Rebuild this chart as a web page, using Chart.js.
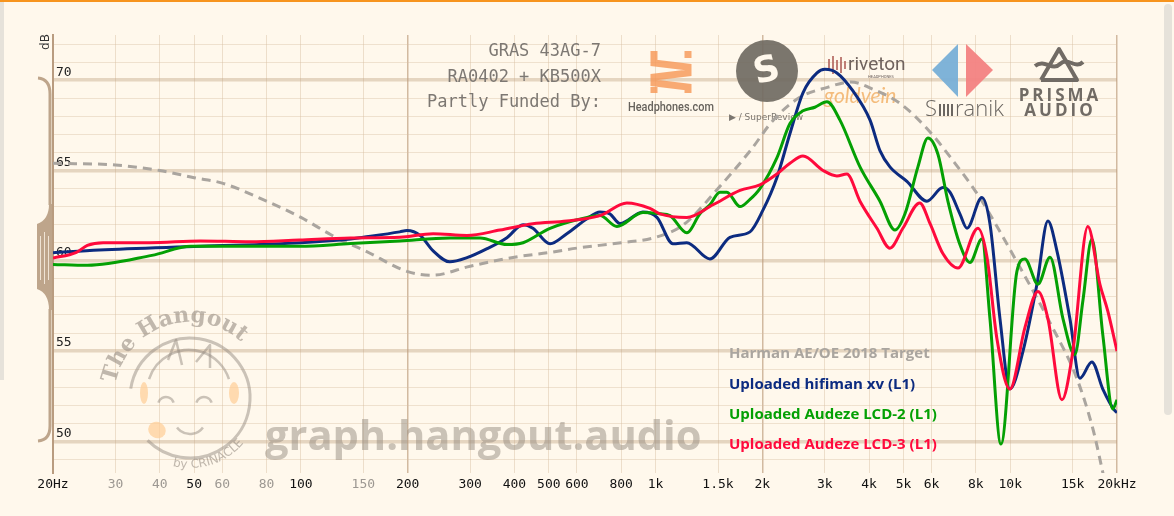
<!DOCTYPE html>
<html>
<head>
<meta charset="utf-8">
<script src="https://cdn.jsdelivr.net/npm/chart.js@4.4.1/dist/chart.umd.min.js"></script>
<style>
  html, body { margin: 0; padding: 0; background: #fff8ec; overflow: hidden; }
  canvas { display: block; }
</style>
</head>
<body>
<canvas id="fr" width="1174" height="516"></canvas>
<script>
'use strict';

// x axis ticks (Hz) and their labels
const xTicks = [20, 30, 40, 50, 60, 80, 100, 150, 200, 300, 400, 500, 600, 800, 1000, 1500, 2000, 3000, 4000, 5000, 6000, 8000, 10000, 15000, 20000];
const xTickLabels = ['20Hz', '30', '40', '50', '60', '80', '100', '150', '200', '300', '400', '500', '600', '800', '1k', '1.5k', '2k', '3k', '4k', '5k', '6k', '8k', '10k', '15k', '20kHz'];
const xGrayTicks = [30, 40, 60, 80, 150];
const xDarkGrid = [20, 200, 2000, 20000];

// y axis: one line per dB, label every 5
const yTicks = [49, 50, 51, 52, 53, 54, 55, 56, 57, 58, 59, 60, 61, 62, 63, 64, 65, 66, 67, 68, 69, 70, 71, 72];

// Harman AE/OE 2018 target
const targetFreq = [20, 30, 40, 50, 60, 80, 100, 120, 131, 150, 200, 235, 300, 400, 500, 600, 800, 1000, 1200, 1500, 1850, 2150, 2550, 3050, 3550, 4100, 4900, 5900, 6800, 8200, 10400, 13000, 15400, 17100, 18000, 20000];
const targetDb = [65.4, 65.3, 65.0, 64.6, 64.3, 63.3, 62.4, 61.5, 61.1, 60.6, 59.4, 59.2, 59.7, 60.2, 60.45, 60.7, 61.0, 61.3, 62.0, 64.0, 66.1, 67.8, 69.05, 69.6, 69.9, 69.5, 68.7, 67.2, 65.7, 63.5, 60.0, 56.5, 53.5, 50.7, 48.8, 44.5];

// hifiman xv
const hifiFreq = [20, 27, 52, 100, 138, 150, 190, 199, 217, 236, 263, 294, 335, 381, 423, 451, 504, 562, 641, 697, 743, 794, 921, 1009, 1119, 1225, 1423, 1621, 1846, 2008, 2198, 2393, 2604, 2852, 3003, 3245, 3602, 4022, 4292, 4579, 5113, 5822, 6457, 6761, 7212, 7551, 8318, 8766, 9355, 9979, 10866, 11893, 12770, 13540, 14730, 15720, 16990, 18240, 19720, 20000];
const hifiDb = [60.45, 60.6, 60.8, 61.0, 61.2, 61.3, 61.6, 61.67, 61.4, 60.55, 59.94, 60.17, 60.67, 61.28, 62.0, 61.8, 60.94, 61.5, 62.33, 62.7, 62.6, 62.06, 62.7, 62.4, 60.94, 61.0, 60.1, 61.3, 61.6, 62.8, 64.6, 67.05, 69.3, 70.4, 70.6, 70.4, 69.4, 67.8, 66.1, 65.2, 64.4, 63.3, 64.05, 63.8, 62.6, 61.8, 63.5, 62.05, 56.8, 52.9, 55.0, 58.7, 62.2, 60.55, 56.8, 53.5, 54.4, 52.9, 51.7, 51.6];

// Audeze LCD-2
const lcd2Freq = [20, 25, 38, 49, 72, 99, 138, 190, 263, 320, 381, 423, 504, 641, 697, 778, 921, 1029, 1098, 1225, 1334, 1423, 1518, 1589, 1730, 1846, 1969, 2198, 2393, 2604, 2813, 3042, 3308, 3770, 4292, 4731, 5049, 5492, 5860, 6254, 6671, 7212, 7700, 8318, 8766, 9416, 10440, 11000, 11970, 12948, 14080, 15210, 16030, 16990, 18240, 19460, 20000];
const lcd2Db = [59.8, 59.75, 60.3, 60.8, 60.8, 60.8, 60.95, 61.1, 61.26, 61.26, 60.9, 61.0, 61.8, 62.4, 62.5, 61.9, 62.67, 62.6, 62.5, 61.55, 62.6, 63.1, 63.8, 63.8, 63.0, 63.4, 64.0, 65.7, 67.6, 68.3, 68.5, 68.8, 67.8, 65.2, 63.3, 61.7, 62.6, 65.2, 66.8, 65.9, 63.3, 60.9, 59.9, 61.2, 56.8, 49.85, 59.4, 60.1, 58.7, 60.2, 56.8, 54.8, 57.8, 61.2, 55.9, 51.8, 52.3];

// Audeze LCD-3
const lcd3Freq = [20, 23.2, 25, 27.7, 37.5, 52, 72, 99, 138, 190, 236, 294, 364, 451, 562, 697, 830, 964, 1029, 1225, 1452, 1730, 1969, 2198, 2393, 2604, 2966, 3245, 3463, 3770, 4209, 4579, 4981, 5558, 5943, 6457, 7121, 8110, 8600, 9170, 9979, 11000, 11970, 12770, 13990, 15020, 16550, 17900, 18850, 20000];
const lcd3Db = [60.15, 60.45, 60.85, 61.0, 61.0, 61.1, 61.05, 61.15, 61.26, 61.3, 61.5, 61.4, 61.7, 62.05, 62.2, 62.5, 63.2, 62.9, 62.6, 62.4, 63.1, 63.9, 64.2, 64.8, 65.4, 65.8, 65.0, 64.7, 64.8, 63.3, 61.8, 60.7, 61.8, 63.2, 62.05, 60.4, 59.6, 61.8, 60.2, 55.7, 52.9, 56.3, 58.3, 56.8, 52.3, 55.0, 61.9, 58.7, 57.2, 55.0];

const headerLines = ['GRAS 43AG-7', 'RA0402 + KB500X', 'Partly Funded By:'];

function pts(freq, db) {
  return freq.map((f, i) => ({ x: f, y: db[i] }));
}

function arcText(c, str, cx, cy, r, a0, dir) {
  let a = a0;
  for (const ch of str) {
    const da = c.measureText(ch).width / r;
    a += dir * da / 2;
    c.save();
    c.translate(cx + r * Math.cos(a), cy + r * Math.sin(a));
    c.rotate(dir > 0 ? a + Math.PI / 2 : a - Math.PI / 2);
    c.fillText(ch, 0, 0);
    c.restore();
    a += dir * da / 2;
  }
}

function poly(c, list) {
  c.beginPath();
  list.forEach((p, i) => i ? c.lineTo(p[0], p[1]) : c.moveTo(p[0], p[1]));
  c.stroke();
}

const decor = {
  id: 'decor',
  beforeDraw(chart) {
    const c = chart.ctx;
    c.save();
    c.fillStyle = '#fff8ec';
    c.fillRect(0, 0, chart.width, chart.height);
    c.fillStyle = '#f7941d';
    c.fillRect(0, 0, chart.width, 2);
    c.fillStyle = '#e6e2da';
    c.fillRect(0, 2, 4, 378);
    c.beginPath();
    c.roundRect(1164, 4, 8, 411, 4);
    c.fill();
    c.restore();
  },
  beforeDatasetsDraw(chart) {
    const c = chart.ctx;
    c.save();

    // header text
    c.font = '17px "DejaVu Sans Mono"';
    c.fillStyle = '#7d7873';
    c.textAlign = 'right';
    c.textBaseline = 'middle';
    headerLines.forEach((t, i) => c.fillText(t, 601, 52 + i * 25.5));

    // Headphones.com
    c.strokeStyle = 'rgba(246,150,85,0.8)';
    c.lineWidth = 7;
    c.lineJoin = 'miter';
    poly(c, [[654, 51], [654, 63], [688, 67], [688, 73], [654, 77], [654, 83], [688, 87], [688, 93]]);
    poly(c, [[688, 51], [688, 58]]);
    poly(c, [[654, 87], [654, 93]]);
    c.fillStyle = '#66625c';
    c.textAlign = 'center';
    c.font = '500 12.5px Roboto';
    c.fillText('Headphones.com', 671, 108, 86);

    // SuperReview
    c.fillStyle = 'rgba(112,106,98,0.92)';
    c.beginPath();
    c.arc(767, 71, 31, 0, Math.PI * 2);
    c.fill();
    c.save();
    c.translate(767, 72);
    c.rotate(-0.25);
    c.fillStyle = '#fff8ec';
    c.font = 'bold 36px "DejaVu Sans"';
    c.fillText('S', 0, 0);
    c.restore();
    c.fillStyle = '#7a756f';
    c.font = '9px "DejaVu Sans"';
    c.fillText('\u25B6 / SuperReview', 766, 118);

    // riveton / goldvein
    c.strokeStyle = 'rgba(180,105,98,0.85)';
    c.lineWidth = 2;
    [[829, 6], [833, 9], [837, 5], [841, 8], [845, 4]].forEach(b => poly(c, [[b[0], 65 - b[1]], [b[0], 65 + b[1]]]));
    c.fillStyle = '#6f625d';
    c.textAlign = 'left';
    c.font = '19px Roboto';
    c.fillText('riveton', 848, 65);
    c.font = '4px Roboto';
    c.fillText('HEADPHONES', 868, 77);
    c.fillStyle = 'rgba(242,178,105,0.85)';
    c.font = 'italic 21px Lato';
    c.fillText('goldvein', 824, 96);

    // Soranik
    c.fillStyle = 'rgba(120,175,215,0.95)';
    c.beginPath();
    c.moveTo(958, 44); c.lineTo(932, 70); c.lineTo(958, 97); c.closePath();
    c.fill();
    c.fillStyle = 'rgba(243,130,130,0.95)';
    c.beginPath();
    c.moveTo(966, 44); c.lineTo(993, 70); c.lineTo(966, 97); c.closePath();
    c.fill();
    c.fillStyle = '#6b6661';
    c.font = '300 22px "Open Sans"';
    c.textBaseline = 'alphabetic';
    c.fillText('S', 925, 116);
    c.fillRect(939, 104, 2, 12); c.fillRect(943, 104, 2, 12); c.fillRect(947, 104, 2, 12); c.fillRect(951, 104, 2, 12);
    c.fillText('ranik', 955, 116);

    // Prisma Audio
    c.strokeStyle = '#716b65';
    c.lineWidth = 4;
    c.lineJoin = 'round';
    poly(c, [[1041, 80], [1059, 49], [1077, 80], [1041, 80]]);
    c.beginPath();
    c.moveTo(1035, 66);
    c.bezierCurveTo(1045, 58, 1052, 72, 1060, 64);
    c.bezierCurveTo(1068, 56, 1075, 70, 1083, 62);
    c.stroke();
    c.fillStyle = '#716b65';
    c.textAlign = 'center';
    c.font = 'bold 17px "Open Sans"';
    c.letterSpacing = '3px';
    c.fillText('PRISMA', 1060, 101);
    c.fillText('AUDIO', 1060, 116);
    c.letterSpacing = '0px';

    // The Hangout badge
    c.strokeStyle = 'rgba(150,140,130,0.5)';
    c.lineWidth = 3;
    c.beginPath();
    c.arc(190, 398, 60, Math.PI * 1.05, Math.PI * 2.75);
    c.stroke();
    c.fillStyle = 'rgba(255,205,150,0.7)';
    c.beginPath(); c.ellipse(144, 393, 4, 11, 0, 0, Math.PI * 2); c.fill();
    c.beginPath(); c.ellipse(234, 393, 5, 11, 0, 0, Math.PI * 2); c.fill();
    c.beginPath(); c.ellipse(157, 430, 9, 8, 0.5, 0, Math.PI * 2); c.fill();
    c.strokeStyle = 'rgba(150,140,130,0.5)';
    c.lineWidth = 2.5;
    c.beginPath(); c.arc(189, 392, 42, Math.PI * 1.1, Math.PI * 1.9); c.stroke();
    c.beginPath(); c.arc(166, 405, 8, Math.PI * 1.1, Math.PI * 1.9); c.stroke();
    c.beginPath(); c.arc(204, 405, 8, Math.PI * 1.1, Math.PI * 1.9); c.stroke();
    c.beginPath(); c.arc(190, 418, 16, Math.PI * 0.2, Math.PI * 0.8); c.stroke();
    poly(c, [[168, 360], [176, 340], [182, 365]]);
    poly(c, [[196, 362], [210, 345], [210, 368]]);
    c.fillStyle = 'rgba(150,140,130,0.6)';
    c.textAlign = 'center';
    c.textBaseline = 'alphabetic';
    c.font = 'bold 22px "DejaVu Serif"';
    arcText(c, 'The Hangout', 190, 398, 76, Math.PI * 1.06, 1);
    c.font = '12px "DejaVu Sans"';
    arcText(c, 'by CRINACLE', 190, 398, 70, Math.PI * 0.58, -1);

    // site watermark
    c.fillStyle = 'rgba(150,140,128,0.5)';
    c.textAlign = 'left';
    c.textBaseline = 'middle';
    c.font = 'bold 40px "Open Sans"';
    const w = c.measureText('graph.hangout.audio').width;
    c.font = 'bold ' + (40 * 437 / w).toFixed(1) + 'px "Open Sans"';
    c.fillText('graph.hangout.audio', 265, 438);

    // range brace at the left of the y axis
    const tan = '#bea58b';
    c.strokeStyle = tan;
    c.fillStyle = tan;
    c.lineWidth = 3;
    c.beginPath();
    c.moveTo(38, 78);
    c.quadraticCurveTo(50, 79, 50, 94);
    c.lineTo(50, 205);
    c.stroke();
    c.beginPath();
    c.moveTo(52, 204);
    c.lineTo(49, 204);
    c.quadraticCurveTo(49, 220, 37, 224);
    c.lineTo(37, 289);
    c.quadraticCurveTo(49, 293, 49, 310);
    c.lineTo(52, 310);
    c.closePath();
    c.fill();
    c.beginPath();
    c.moveTo(50, 309);
    c.lineTo(50, 426);
    c.quadraticCurveTo(50, 440, 38, 441);
    c.stroke();
    c.strokeStyle = 'rgba(255,248,236,0.75)';
    c.lineWidth = 1;
    poly(c, [[40.5, 236], [40.5, 280]]);
    poly(c, [[44.5, 232], [44.5, 284]]);
    poly(c, [[48.5, 236], [48.5, 280]]);

    // dB label
    c.save();
    c.translate(46, 42);
    c.rotate(-Math.PI / 2);
    c.fillStyle = '#333';
    c.font = '12px "DejaVu Sans"';
    c.textAlign = 'center';
    c.fillText('dB', 0, 0);
    c.restore();

    c.restore();
  },
  afterDatasetsDraw(chart) {
    const c = chart.ctx;
    c.save();
    c.font = 'bold 15px "Open Sans"';
    c.textAlign = 'left';
    c.textBaseline = 'middle';
    chart.data.datasets.forEach((ds, i) => {
      c.fillStyle = ds.legendColor;
      c.fillText(ds.label, 729, 354 + i * 30.3);
    });
    c.restore();
  }
};

new Chart(document.getElementById('fr'), {
  type: 'line',
  data: {
    datasets: [{
      label: 'Harman AE/OE 2018 Target',
      data: pts(targetFreq, targetDb),
      borderColor: '#aaa59f',
      legendColor: '#aaa59f',
      borderDash: [9, 6],
      borderWidth: 3,
      order: 3
    }, {
      label: 'Uploaded hifiman xv (L1)',
      data: pts(hifiFreq, hifiDb),
      borderColor: '#0c2b80',
      legendColor: '#0c2b80',
      order: 2
    }, {
      label: 'Uploaded Audeze LCD-2 (L1)',
      data: pts(lcd2Freq, lcd2Db),
      borderColor: '#04a004',
      legendColor: '#04a004',
      order: 1
    }, {
      label: 'Uploaded Audeze LCD-3 (L1)',
      data: pts(lcd3Freq, lcd3Db),
      borderColor: '#ff0a3c',
      legendColor: '#ff0a3c',
      order: 0
    }]
  },
  options: {
    responsive: false,
    animation: false,
    devicePixelRatio: 1,
    layout: { padding: { left: 53, right: 57, top: 35, bottom: 0 } },
    elements: {
      point: { radius: 0 },
      line: { borderWidth: 3, cubicInterpolationMode: 'monotone', fill: false }
    },
    plugins: {
      legend: { display: false },
      tooltip: { enabled: false }
    },
    scales: {
      x: {
        type: 'logarithmic',
        min: 20,
        max: 20000,
        afterBuildTicks: s => { s.ticks = xTicks.map(v => ({ value: v })); },
        afterFit: s => { s.height = 43; },
        border: { display: false },
        grid: {
          drawTicks: false,
          color: ctx => ctx.tick && xDarkGrid.includes(ctx.tick.value) ? 'rgba(180,145,110,0.6)' : 'rgba(210,182,152,0.4)',
          lineWidth: ctx => ctx.tick && xDarkGrid.includes(ctx.tick.value) ? 1.5 : 1
        },
        ticks: {
          autoSkip: false,
          maxRotation: 0,
          padding: 4,
          font: { family: '"DejaVu Sans Mono"', size: 13 },
          color: ctx => ctx.tick && xGrayTicks.includes(ctx.tick.value) ? '#9d9892' : '#111',
          callback: v => xTickLabels[xTicks.indexOf(v)]
        }
      },
      y: {
        min: 48.25,
        max: 72.5,
        afterBuildTicks: s => { s.ticks = yTicks.map(v => ({ value: v })); },
        afterFit: s => { s.width = 0; },
        border: { display: true, color: '#b99c80', width: 2 },
        grid: {
          drawTicks: false,
          color: ctx => ctx.tick && ctx.tick.value % 5 === 0 ? 'rgba(190,160,128,0.4)' : 'rgba(215,190,162,0.4)',
          lineWidth: ctx => ctx.tick && ctx.tick.value % 5 === 0 ? 3.5 : 1
        },
        ticks: {
          mirror: true,
          padding: 3,
          labelOffset: -8,
          font: { family: '"DejaVu Sans Mono"', size: 13 },
          color: '#222',
          callback: v => v % 5 === 0 ? String(v) : ''
        }
      }
    }
  },
  plugins: [decor]
});
</script>
</body>
</html>
